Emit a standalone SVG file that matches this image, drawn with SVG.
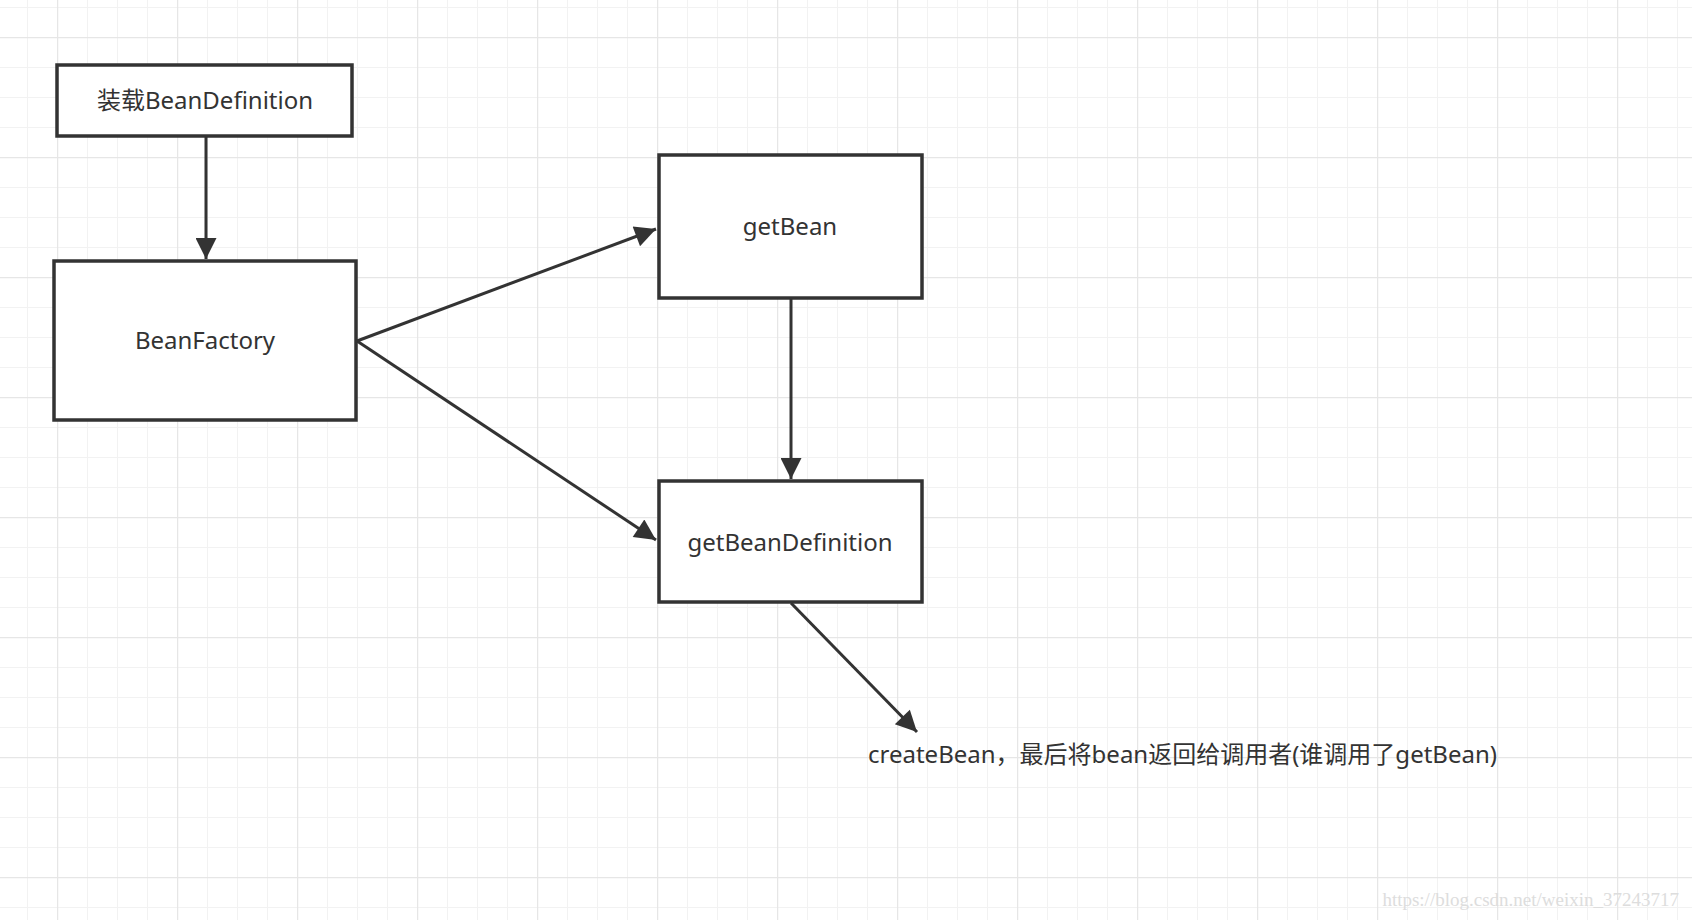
<svg xmlns="http://www.w3.org/2000/svg" width="1692" height="920" viewBox="0 0 1692 920">
<defs>
<pattern id="minor" width="30" height="30" patternUnits="userSpaceOnUse" x="-3" y="7"><path d="M0 0H30M0 0V30" fill="none" stroke="#f2f2f2" stroke-width="2"/></pattern>
<pattern id="major" width="120" height="120" patternUnits="userSpaceOnUse" x="57" y="37"><path d="M0 0H120M0 0V120" fill="none" stroke="#e6e6e6" stroke-width="2.5"/></pattern>
<marker id="ah" viewBox="0 0 10 10" refX="10" refY="5" markerWidth="9" markerHeight="7" markerUnits="strokeWidth" orient="auto"><path d="M0 0L10 5L0 10z" fill="#333"/></marker>
</defs>
<style>
.n{fill:#fff;stroke:#333;stroke-width:3.5}
.t{font-family:"Noto Sans","Noto Sans CJK SC",sans-serif;font-size:24px;fill:#333;text-anchor:middle}
.c{stroke:#333;stroke-width:3;fill:none;marker-end:url(#ah)}
</style>
<rect width="1692" height="920" fill="#fff"/>
<rect width="1692" height="920" fill="url(#minor)"/>
<rect width="1692" height="920" fill="url(#major)"/>
<g id="connectors">
<line class="c" x1="206" y1="137" x2="206" y2="259"/>
<line class="c" x1="357" y1="341" x2="656" y2="229"/>
<line class="c" x1="357" y1="341" x2="656" y2="540"/>
<line class="c" x1="791" y1="299" x2="791" y2="479"/>
<line class="c" x1="791" y1="603" x2="917" y2="732"/>
</g>
<g id="n1"><rect class="n" x="57" y="65" width="295" height="71"/><text class="t" x="205" y="109">装载BeanDefinition</text></g>
<g id="n2"><rect class="n" x="54" y="261" width="302" height="159"/><text class="t" x="205" y="349">BeanFactory</text></g>
<g id="n3"><rect class="n" x="659" y="155" width="263" height="143"/><text class="t" x="790" y="235">getBean</text></g>
<g id="n4"><rect class="n" x="659" y="481" width="263" height="121"/><text class="t" x="790" y="551">getBeanDefinition</text></g>
<text id="label" x="868" y="763" style="font-family:'Noto Sans','Noto Sans CJK SC',sans-serif;font-size:24px;fill:#333">createBean，最后将bean返回给调用者(谁调用了getBean)</text>
<text x="1679" y="906" style="font-family:'Liberation Serif',serif;font-size:19px;fill:#ddd;text-anchor:end">https://blog.csdn.net/weixin_37243717</text>
</svg>
